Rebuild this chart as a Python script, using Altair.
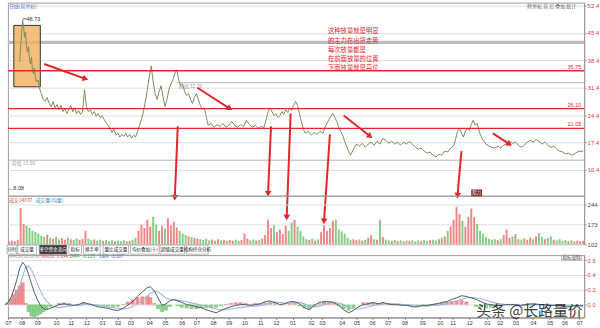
import math
import altair as alt
import pandas as pd
import numpy as np

# ---------------- data ----------------
price_day = [15,17,18,19,20,21,22,23,24,25,26,27,28,29,30,31,32,34,35,37,39,41,43,45,47,49,51,53,55,57,59,61,63,65,67,69,71,73,75,77,79,81,83,85,87,89,91,93,95,97,99,101,103,105,107,109,111,113,115,117,119,121,123,125,127,129,131,133,135,137,139,141,143,145,147,149,151,153,155,157,159,161,163,165,167,169,171,173,175,177,179,181,183,185,187,189,191,193,195,197,199,201,203,205,207,210,213,216,219,222,225,228,231,234,237,240,243,246,249,252,255,258,261,264,266,268,270,272,274,276,278,280,282,284,286,288,290,292,294,296,298,300,302,304,306,309,312,315,318,321,324,326,328,330,332,334,336,338,340,342,344,346,348,350,352,354,356,358,361,364,367,370,373,376,379,382,385,388,391,394,397,400,403,406,409,412,415,418,421,424,427,430,433,436,439,442,445,448,451,454,457,459,461,463,465,467,469,471,473,475,477,479,481,483,485,487,490,493,496,499,502,505,508,511,514,517,520,523,526,529,532,535,538,541,544,547,550,553,556,559,562,565,568,571,574,577,580,583,586,589]
price_close = [38.0,45.6,48.73,46.8,44.3,45.6,41.8,40.5,42.0,38.5,37.5,39.2,36.0,35.0,36.5,34.0,32.9,33.4,31.4,29.9,28.4,27.9,28.9,27.4,26.6,27.9,26.3,27.1,25.8,26.9,25.3,26.1,24.8,25.8,26.9,25.3,26.3,24.8,25.6,24.6,25.3,30.9,26.6,25.3,25.8,24.6,25.3,24.1,24.8,23.8,24.3,23.3,22.5,21.8,21.0,20.0,20.8,19.3,19.8,18.8,19.5,19.0,19.8,18.8,19.5,18.5,19.3,18.8,20.3,21.8,23.3,25.3,27.9,30.9,34.2,37.0,32.9,29.9,28.4,30.4,31.9,29.1,26.6,28.4,30.9,32.4,33.4,35.0,36.0,33.4,31.9,32.4,30.4,29.4,29.9,28.4,27.4,28.9,29.9,28.4,26.9,25.8,26.3,24.1,21.8,22.3,21.3,22.0,21.5,22.3,21.3,21.8,22.8,21.8,21.3,22.0,21.5,23.1,22.0,21.3,21.8,21.0,21.5,21.3,23.3,25.3,26.3,25.3,24.3,24.8,23.8,24.3,25.3,24.6,25.8,25.1,26.3,25.6,26.9,27.9,26.9,24.8,22.8,20.8,19.8,20.3,19.3,20.0,19.5,20.3,19.8,21.3,22.3,23.3,24.1,24.8,23.8,22.8,21.3,20.3,19.3,17.7,16.5,15.2,14.2,15.2,16.2,17.0,16.5,17.2,16.2,17.0,17.5,16.7,17.7,17.0,18.5,18.0,17.2,17.7,17.0,17.5,16.7,17.5,17.0,17.7,17.0,16.2,15.7,16.0,15.2,14.7,15.0,14.2,13.7,14.4,14.2,15.2,15.0,16.0,16.5,18.2,20.3,21.0,19.8,18.8,20.3,21.0,20.5,22.0,23.1,21.8,22.3,20.3,19.0,18.0,17.0,16.5,16.2,16.0,16.5,16.0,16.7,17.2,17.7,17.2,17.5,16.7,16.2,16.7,17.5,18.0,17.5,18.2,17.7,17.0,17.5,16.7,16.2,16.5,15.7,15.2,15.0,14.5,14.7,14.2,14.5,15.0,15.2,15.2]
assert len(price_day) == len(price_close)

price_ticks = [10.4, 17.4, 24.4, 31.4, 38.4, 45.4, 52.4]
level_values = [35.75, 26.10, 21.05]           # red support / resistance lines
peak_value = 48.73
low_value = 8.08

volume = [112,115,113,118,232,175,168,160,150,146,140,132,128,136,125,122,128,120,124,118,126,120,117,123,118,121,150,122,116,119,115,118,114,117,113,116,112,115,113,116,112,114,118,125,150,172,160,190,165,200,172,150,168,158,195,170,182,162,150,140,135,130,128,125,122,120,118,122,116,119,115,120,116,118,114,117,115,118,114,117,140,122,116,119,115,118,122,135,190,160,170,145,155,138,168,150,180,190,165,150,130,120,118,122,115,120,145,170,150,160,185,190,155,148,140,125,118,120,116,119,115,118,125,134,120,118,190,128,118,116,114,117,113,116,112,115,113,116,112,115,113,117,114,116,118,115,120,125,130,150,165,190,235,210,185,165,200,230,200,175,150,140,128,122,118,120,116,120,135,155,125,130,138,120,118,122,118,125,120,130,142,128,120,124,130,118,116,120,114,117,113,116,112,115,113,114]
vol_day = [4 + 3 * i for i in range(len(volume))]
vol_ticks = [102, 173, 244]

macd_day = [0,3,6,9,12,15,18,21,24,27,30,33,36,39,42,46,50,55,60,65,70,75,80,85,90,95,100,105,110,115,120,125,130,135,140,145,148,152,156,160,164,168,172,176,180,185,190,195,200,205,210,215,220,225,230,235,240,245,250,255,260,265,270,275,280,285,290,295,300,305,310,315,320,325,330,335,340,345,350,355,360,365,370,375,380,385,390,395,400,405,410,415,420,425,430,435,440,445,450,455,460,465,470,475,480,485,490,495,500,505,510,515,520,525,530,535,540,545,550,555,560,565,570,575,580,585,589]
diff = [0.0,0.03,0.09,0.2,0.33,0.49,0.57,0.52,0.41,0.28,0.16,0.07,-0.01,-0.05,-0.07,-0.05,-0.03,0.0,0.01,0.0,-0.01,0.0,0.03,0.01,-0.01,-0.03,-0.04,-0.05,-0.07,-0.08,-0.05,-0.01,0.04,0.11,0.17,0.23,0.24,0.19,0.09,-0.01,0.01,0.05,0.07,0.05,0.03,0.0,-0.01,-0.03,-0.04,-0.07,-0.09,-0.11,-0.08,-0.05,-0.03,-0.01,0.0,0.0,-0.01,0.0,0.01,0.04,0.05,0.03,0.0,0.01,0.04,0.04,0.01,-0.04,-0.07,-0.01,0.03,0.04,0.04,0.03,-0.01,-0.07,-0.11,-0.08,-0.03,0.0,0.01,0.03,0.01,0.03,0.01,0.0,0.0,-0.01,-0.01,-0.03,-0.03,-0.01,-0.01,0.0,0.01,0.03,0.04,0.07,0.09,0.12,0.11,0.09,0.07,0.04,0.01,0.0,-0.01,-0.01,0.0,0.0,0.0,-0.01,0.0,0.01,0.01,0.0,0.0,-0.01,-0.01,-0.01,-0.03,-0.03,-0.01,-0.01,-0.01]
dea = [0.0,0.01,0.03,0.07,0.14,0.25,0.38,0.5,0.52,0.47,0.38,0.28,0.19,0.11,0.05,0.0,-0.03,-0.04,-0.03,-0.02,-0.01,-0.01,0.0,0.01,0.0,-0.01,-0.02,-0.03,-0.04,-0.05,-0.06,-0.05,-0.03,0.01,0.06,0.11,0.15,0.18,0.17,0.13,0.09,0.07,0.06,0.06,0.05,0.04,0.02,0.01,-0.01,-0.02,-0.04,-0.06,-0.07,-0.07,-0.06,-0.05,-0.04,-0.03,-0.02,-0.02,-0.01,0.0,0.02,0.03,0.03,0.02,0.02,0.03,0.03,0.01,-0.02,-0.03,-0.02,0.0,0.02,0.03,0.02,0.0,-0.04,-0.06,-0.06,-0.05,-0.03,-0.01,0.0,0.01,0.01,0.01,0.01,0.0,0.0,-0.01,-0.02,-0.02,-0.02,-0.01,-0.01,0.0,0.01,0.03,0.05,0.07,0.09,0.1,0.09,0.08,0.06,0.04,0.02,0.01,0.0,0.0,0.0,-0.01,-0.01,0.0,0.0,0.0,0.0,0.0,-0.01,-0.01,-0.02,-0.02,-0.02,-0.02,-0.02]
hist = [0.0,0.03,0.08,0.14,0.2,0.26,0.3,0.02,-0.1,-0.16,-0.17,-0.15,-0.13,-0.1,-0.06,-0.03,0.0,0.02,0.03,0.02,0.0,0.01,0.03,0.01,-0.01,-0.01,-0.02,-0.02,-0.03,-0.03,0.01,0.04,0.07,0.1,0.11,0.12,0.1,0.02,-0.06,-0.1,-0.08,-0.03,0.0,-0.02,-0.04,-0.05,-0.06,-0.06,-0.05,-0.05,-0.05,-0.04,-0.02,0.01,0.02,0.03,0.03,0.02,0.01,0.02,0.02,0.03,0.04,0.02,0.0,0.0,0.02,0.02,-0.02,-0.05,-0.06,-0.03,0.02,0.04,0.03,0.02,-0.02,-0.06,-0.08,-0.05,0.0,0.03,0.03,0.03,0.02,0.02,0.01,0.0,-0.01,-0.01,-0.01,-0.02,-0.02,-0.01,-0.01,0.01,0.02,0.03,0.04,0.05,0.05,0.06,0.04,0.0,-0.03,-0.04,-0.05,-0.04,-0.03,-0.02,0.0,0.01,0.01,0.0,0.01,0.01,0.01,0.0,0.0,-0.01,-0.01,-0.01,-0.01,-0.01,0.0,0.0,0.0]
assert len(macd_day) == len(diff) == len(dea) == len(hist)
macd_ticks = [0.0, 0.2, 0.4, 0.6]

month_pos = [3,17,33,52,67,83,99,115,128,147,163,180,195,212,228,244,260,276,293,312,323,343,358,374,390,407,425,443,456,473,491,504,520,538,555,570,585]
month_lab = ["07","08","09","10","11","12","01","02","03","04","05","06","07","08","09","10","11","12","01","02","03","04","05","06","07","08","09","10","11","12","01","02","03","04","05","06","07"]

note_lines = ["这种放量就是明显", "的主力在出货走势", "每次放量都是", "在前面放量的位置", "下面放量就是高位"]

tab_labels = ["分时", "成交量", "多空资金流向", "指标", "换手率", "量比成交量", "均价叠加(十)", "超级成交量", "机构持仓分析"]

# ---------------- layout ----------------
W = 582
H_P, H_V, H_T, H_M = 195, 49, 11, 63
X_DOM = [3, 590]
P_DOM = [3.83, 53.16]
V_DOM = [102, 276]
M_DOM = [-0.173, 0.667]
RED = "#e3262b"
FONT = "Liberation Sans"
CJK = "Noto Sans CJK SC"

xs = alt.Scale(domain=X_DOM, nice=False, zero=False)
ps = alt.Scale(domain=P_DOM, nice=False, zero=False)
vs = alt.Scale(domain=V_DOM, nice=False, zero=False)
ms = alt.Scale(domain=M_DOM, nice=False, zero=False)


def axis_r(values, color, fmt):
    return alt.Axis(orient="right", values=values, format=fmt, labelColor=color,
                    labelFontSize=6, labelFont=FONT, tickSize=2, tickColor="#999",
                    labelPadding=1, domainColor="#999", grid=True, gridColor="#dedede",
                    title=None, labelLimit=14)


pax = axis_r(price_ticks, "#d43b3b", ".1f")
vax = axis_r(vol_ticks, "#444444", "d")
max_ = axis_r(macd_ticks, "#d43b3b", ".1f")

expr = "{" + ",".join(f"'{p}':'{l}'" for p, l in zip(month_pos, month_lab)) + "}[datum.value]"
xax = alt.Axis(values=month_pos, labelExpr=expr, labelFontSize=5.5, labelColor="#333",
               tickSize=2, tickColor="#888", labelPadding=1, domainColor="#888",
               grid=False, title=None, labelOverlap=False, labelFlush=False)


def X(f="d", axis=None):
    return alt.X(f"{f}:Q", scale=xs, axis=axis, title=None)


def PY(f="p"):
    return alt.Y(f"{f}:Q", scale=ps, axis=pax, title=None)


def VY(f="v"):
    return alt.Y(f"{f}:Q", scale=vs, axis=vax, title=None)


def MY(f="m"):
    return alt.Y(f"{f}:Q", scale=ms, axis=max_, title=None)


# ---------------- price panel ----------------
df_price = pd.DataFrame({"d": price_day, "p": price_close})

band = alt.Chart(pd.DataFrame({"p": [43.0]})).mark_rule(color="#bcbcbc", strokeWidth=3.5).encode(y=PY())
glines = alt.Chart(pd.DataFrame({"d": [175, 3], "d2": [590, 590], "p": [32.7, 12.9]})).mark_rule(
    color="#b5b5b5", strokeWidth=1).encode(x=X(), x2="d2:Q", y=PY())
glabels = alt.Chart(pd.DataFrame({"d": [177, 7], "p": [32.7, 12.9], "t": ["前高 32.70", "前低 12.90"]})).mark_text(
    align="left", baseline="top", dy=1, fontSize=5, color="#9a9a9a", font=CJK).encode(x=X(), y=PY(), text="t:N")

box = alt.Chart(pd.DataFrame({"d": [9], "d2": [36], "p": [47.34], "p2": [31.65]})).mark_rect(
    fill="#f4ae5c", fillOpacity=0.8, stroke="#333", strokeWidth=1).encode(x=X(), x2="d2:Q", y=PY(), y2="p2:Q")

pline = alt.Chart(df_price).mark_line(color="#7e8a5c", strokeWidth=1).encode(x=X(), y=PY())

df_lvl = pd.DataFrame({"p": level_values, "t": [f"{v:.2f}" for v in level_values]})
lvl = alt.Chart(df_lvl).mark_rule(color=RED, strokeWidth=1.3).encode(y=PY())
lvl_t = alt.Chart(df_lvl).mark_text(color=RED, fontSize=5.5, align="right", baseline="bottom", dy=-1).encode(
    x=alt.value(W - 3), y=PY(), text="t:N")

# arrows (annotation geometry in data units)
a_d1 = [40, 196, 345, 497, 176, 271, 291, 331, 465]
a_p1 = [37.47, 31.40, 24.32, 19.76, 21.54, 21.54, 24.82, 19.51, 15.21]
a_d2 = [82, 229, 372, 514, 173, 268, 287, 325, 461]
a_p2 = [33.68, 26.09, 19.0, 16.98, 3.32, 4.33, -1.74, -2.75, 3.83]
kx = W / (X_DOM[1] - X_DOM[0])
ky = H_P / (P_DOM[1] - P_DOM[0])
ang = [math.degrees(math.atan2((d2 - d1) * kx, (p2 - p1) * ky)) % 360
       for d1, p1, d2, p2 in zip(a_d1, a_p1, a_d2, a_p2)]
df_arr = pd.DataFrame({"d": a_d1, "p": a_p1, "d2": a_d2, "p2": a_p2, "ang": ang})
arr_l = alt.Chart(df_arr).mark_rule(color=RED, strokeWidth=2).encode(x=X(), x2="d2:Q", y=PY(), y2="p2:Q")
arr_h = alt.Chart(df_arr).mark_point(shape="triangle-up", filled=True, color=RED, size=45, opacity=1).encode(
    x=X("d2"), y=PY("p2"), angle=alt.Angle("ang:Q", scale=None))

# annotation note: one text element per line
line_step = 9.2 / ky
df_note = pd.DataFrame({"d": [329] * len(note_lines),
                        "p": [45.8 - i * line_step for i in range(len(note_lines))],
                        "t": note_lines})
note = alt.Chart(df_note).mark_text(
    align="left", baseline="middle", fontSize=6.4, color=RED, font=CJK).encode(
    x=X(), y=PY(), text="t:N")

peak_tick = alt.Chart(pd.DataFrame({"d": [18], "d2": [22], "p": [peak_value + 0.3]})).mark_rule(
    color="#333", strokeWidth=0.8).encode(x=X(), x2="d2:Q", y=PY())
peak_t = alt.Chart(pd.DataFrame({"d": [22], "p": [peak_value + 0.3], "t": [f"{peak_value:.2f}"]})).mark_text(
    align="left", baseline="middle", fontSize=5.5, color="#333").encode(x=X(), y=PY(), text="t:N")
low_t = alt.Chart(pd.DataFrame({"d": [3], "p": [5.85], "t": [f"←{low_value:.2f}"]})).mark_text(
    align="left", baseline="middle", fontSize=5.5, color="#333").encode(x=X(), y=PY(), text="t:N")

hdr = alt.Chart(pd.DataFrame({"d": [4, 532], "p": [52.3, 52.3], "t": ["日线(前复权)", "除复权 前 后 叠加 统计"],
                              "c": ["#4a7ab8", "#666666"]})).mark_text(
    align="left", baseline="middle", fontSize=5, font=CJK).encode(
    x=X(), y=PY(), text="t:N", color=alt.Color("c:N", scale=None))

zbox = alt.Chart(pd.DataFrame({"d": [475], "d2": [486], "p": [5.4], "p2": [3.6]})).mark_rect(
    fill="#7a1f1f").encode(x=X(), x2="d2:Q", y=PY(), y2="p2:Q")
zbox_t = alt.Chart(pd.DataFrame({"d": [480.5], "p": [4.5], "t": ["阻力"]})).mark_text(
    fontSize=4.5, color="white", font=CJK, baseline="middle").encode(x=X(), y=PY(), text="t:N")

price_chart = alt.layer(band, glines, glabels, box, pline, lvl, lvl_t, note, peak_tick, peak_t, low_t,
                        hdr, zbox, zbox_t, arr_l, arr_h).properties(width=W, height=H_P)

# ---------------- volume panel ----------------
pr_now = np.interp(vol_day, price_day, price_close)
pr_prev = np.interp(np.array(vol_day) - 3, price_day, price_close)
df_vol = pd.DataFrame({"d": vol_day, "v": volume, "dir": np.where(pr_now >= pr_prev, "up", "down")})
vbars = alt.Chart(df_vol).mark_rule(strokeWidth=2, opacity=0.9).encode(
    x=X(), y=VY(), y2=alt.datum(V_DOM[0]),
    color=alt.Color("dir:N", scale=alt.Scale(domain=["up", "down"], range=["#ec7b7b", "#79c879"]), legend=None))
vhdr = alt.Chart(pd.DataFrame({"d": [4, 14, 31], "v": [262, 262, 262], "t": ["成交", "14037", "成交量(均量)"],
                               "c": ["#e04040", "#e04040", "#3b8fc4"]})).mark_text(
    align="left", baseline="middle", fontSize=5, font=CJK).encode(
    x=X(), y=VY(), text="t:N", color=alt.Color("c:N", scale=None))
vol_chart = alt.layer(vbars, vhdr).properties(width=W, height=H_V)

# ---------------- tabs row ----------------
tab_x0 = [2, 13, 35, 65, 80, 100, 128, 158, 185]
tab_x1 = [12, 32, 63, 78, 97, 126, 157, 183, 207]
sel = [1 if i == 2 else 0 for i in range(len(tab_labels))]
df_tab = pd.DataFrame({"d": tab_x0, "d2": tab_x1, "t": tab_labels,
                       "fc": ["#3a3a3a" if s else "#ffffff" for s in sel],
                       "tc": ["#ffffff" if s else "#222222" for s in sel]})
df_tab["m"] = (df_tab["d"] + df_tab["d2"]) / 2
ty = alt.Scale(domain=[0, 1])
tab_r = alt.Chart(df_tab).mark_rect(stroke="#888", strokeWidth=0.6).encode(
    x=X(), x2="d2:Q", y=alt.Y("y0:Q", scale=ty, axis=None), y2="y1:Q",
    fill=alt.Fill("fc:N", scale=None)).transform_calculate(y0="0.08", y1="0.92")
tab_t = alt.Chart(df_tab).mark_text(fontSize=4.6, font=CJK, baseline="middle").encode(
    x=X("m"), y=alt.Y("yc:Q", scale=ty, axis=None), text="t:N",
    color=alt.Color("tc:N", scale=None)).transform_calculate(yc="0.5")
tab_chart = alt.layer(tab_r, tab_t).properties(width=W, height=H_T, view=alt.ViewBackground(strokeOpacity=0))

# ---------------- MACD panel ----------------
df_m = pd.DataFrame({"d": macd_day, "diff": diff, "dea": dea, "h": hist})
df_m["s"] = np.where(df_m["h"] >= 0, "pos", "neg")
XM = X(axis=xax)
mh = alt.Chart(df_m).mark_rule(strokeWidth=4, opacity=0.85).encode(
    x=XM, y=MY("h"), y2=alt.datum(0),
    color=alt.Color("s:N", scale=alt.Scale(domain=["pos", "neg"], range=["#ef7f7f", "#4cbf5c"]), legend=None))
m_dea = alt.Chart(df_m).mark_line(color="#9fbad6", strokeWidth=1.1).encode(x=XM, y=MY("dea"))
m_diff = alt.Chart(df_m).mark_line(color="#4d5c6c", strokeWidth=1).encode(x=XM, y=MY("diff"))
mhdr = alt.Chart(pd.DataFrame({"d": [4, 37, 66, 96], "m": [0.64] * 4,
                               "t": ["MACD(12,26,9)", "MACD: 0.144", "DIFF: -0.125", "DEA: -0.107"],
                               "c": ["#aaaaaa", "#e05c7a", "#3aa65a", "#4a7ab8"]})).mark_text(
    align="left", baseline="middle", fontSize=4.5).encode(
    x=XM, y=MY(), text="t:N", color=alt.Color("c:N", scale=None))
ibox = alt.Chart(pd.DataFrame({"d": [567], "d2": [587], "m": [0.665], "m2": [0.6]})).mark_rect(
    fill="white", stroke="#888", strokeWidth=0.6).encode(x=XM, x2="d2:Q", y=MY(), y2="m2:Q")
ibox_t = alt.Chart(pd.DataFrame({"d": [577], "m": [0.632], "t": ["指标说明"]})).mark_text(
    fontSize=4.5, font=CJK, color="#333", baseline="middle").encode(x=XM, y=MY(), text="t:N")
wm = alt.Chart(pd.DataFrame({"d": [480], "m": [-0.08], "t": ["头条 @长路量价"]})).mark_text(
    align="left", baseline="middle", fontSize=15, font=CJK, color="#2a2a2a", opacity=0.9).encode(
    x=XM, y=MY(), text="t:N")
macd_chart = alt.layer(mh, m_dea, m_diff, mhdr, ibox, ibox_t, wm).properties(width=W, height=H_M)

chart = alt.vconcat(price_chart, vol_chart, tab_chart, macd_chart, spacing=0, bounds="flush").properties(
    padding={"left": 2, "top": 0, "right": 0, "bottom": 0}
).configure(font=FONT).configure_view(stroke="#9c9c9c", strokeWidth=1)

chart.save("out.html", embed_options={"renderer": "svg", "actions": False})
